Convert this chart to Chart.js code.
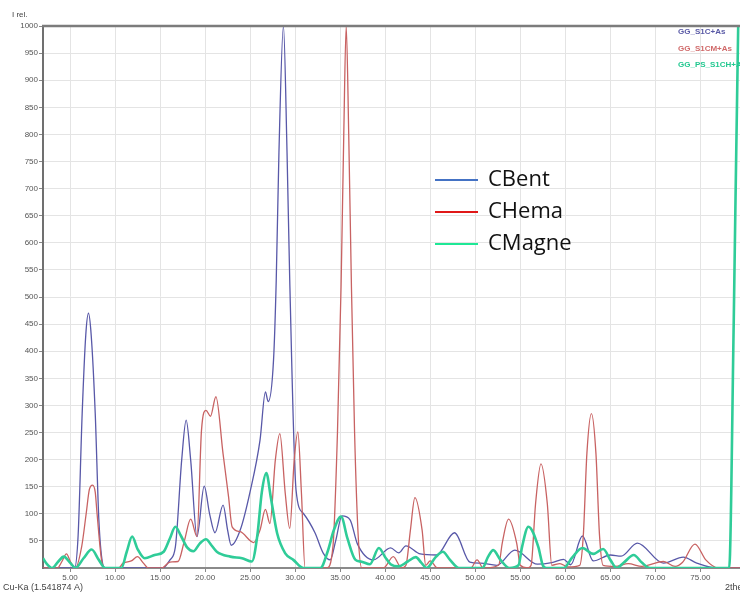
<!DOCTYPE html>
<html>
<head>
<meta charset="utf-8">
<script src="https://cdn.jsdelivr.net/npm/chart.js@4/dist/chart.umd.min.js"></script>
<style>
  html, body { margin: 0; padding: 0; background: #ffffff; overflow: hidden; }
  #wrap { width: 740px; height: 592px; }
</style>
</head>
<body>
<div id="wrap"><canvas id="xrd" width="740" height="592"></canvas></div>
<script>
// Diffractogram points: [2theta (deg), relative intensity]
const cbent = [
  [2.0,0],[5.5,0],[5.9,60],[6.35,285],[6.75,430],[7.05,470],[7.35,430],
  [7.8,285],[8.2,90],[8.6,10],[8.9,0],
  [15.3,0],[16.1,15],[16.7,39],[17.4,199],[17.9,273],[18.4,199],[19.1,58],[19.9,151],
  [20.5,100],[21.1,65],[22.0,116],[22.5,70],[22.9,42],[23.9,70],[25.0,141],[26.1,236],
  [26.7,325],[27.0,307],[27.6,384],[27.9,531],[28.2,766],[28.7,1000],[29.1,766],[29.4,531],
  [30.1,144],[30.9,101],[32.2,65],[33.1,28],[33.9,15],[34.5,50],[35.2,96],[36.1,89],
  [36.9,45],[38.7,15],[40.6,37],[41.5,28],[42.3,41],[43.9,26],[45.7,24],[47.7,65],
  [49.4,11],[50.6,9],[52.4,5],[54.4,33],[56.9,7],[58.5,10],[59.8,16],[60.6,6],
  [61.9,59],[63.1,13],[65.0,24],[66.2,22],[68.0,46],[70.9,9],[73.1,20],[74.6,9],
  [76.8,0],[79.4,0]
];
const chema = [
  [2.0,0],[3.6,0],[4.1,12],[4.6,26],[5.1,10],[5.6,0],[6.3,40],[6.8,101],[7.15,145],[7.5,153],
  [7.8,140],[8.0,101],[8.5,15],[8.9,0],[10.4,0],[10.9,9],[11.8,13],[12.5,21],[13.1,10],[13.7,0],[15.2,0],
  [16.1,11],[17.0,12],[17.7,50],[18.4,90],[19.1,58],[19.6,254],[20.1,291],[20.6,280],
  [21.2,316],[22.0,210],[22.6,132],[23.0,76],[23.9,67],[25.4,47],[26.1,70],[26.7,108],
  [27.2,82],[27.8,199],[28.3,248],[28.9,138],[29.4,73],[29.9,200],[30.3,251],[30.7,138],
  [31.1,0],[33.5,0],[34.2,40],[34.7,250],[35.1,520],[35.4,800],[35.67,1000],[35.95,800],
  [36.25,520],[36.6,250],[37.0,60],[37.4,0],[39.8,0],[40.9,21],[41.8,0],[42.3,5],
  [42.8,70],[43.3,130],[44.1,70],[44.5,5],[45.0,13],[45.8,0],[49.5,0],[50.2,15],
  [50.9,0],[52.6,5],[53.0,46],[53.7,90],[54.6,46],[55.0,5],[55.8,0],[56.2,5],
  [56.7,119],[57.3,192],[58.0,119],[58.5,5],[59.4,8],[60.3,2],[61.6,5],[62.0,60],[62.4,212],
  [62.9,285],[63.4,212],[63.8,60],[64.2,5],[65.5,3],[67.0,8],[68.5,3],[70.9,12],[72.2,3],
  [73.0,10],[74.4,44],[75.6,15],[77.0,0],[79.4,0]
];
const cmagne = [
  [2.0,18],[2.4,8],[3.0,0],[3.7,12],[4.3,21],[5.0,10],[5.6,0],[6.5,18],[7.4,34],
  [8.2,15],[8.9,0],[10.7,0],[11.3,30],[11.9,58],[12.5,35],[13.3,18],[14.4,24],[15.4,30],
  [16.1,55],[16.7,76],[17.3,60],[18.0,38],[18.7,31],[19.4,45],[20.1,53],[20.7,42],
  [21.3,30],[22.8,21],[24.1,18],[25.2,12],[25.8,60],[26.3,140],[26.8,175],[27.3,130],
  [28.0,64],[28.9,27],[29.8,15],[30.9,0],[32.8,0],[33.6,30],[34.3,70],[35.1,95],
  [35.8,55],[36.7,15],[37.3,12],[38.3,7],[39.3,37],[40.0,20],[40.6,7],[41.5,3],
  [42.5,12],[43.4,20],[44.0,10],[44.6,0],[45.6,20],[46.4,30],[47.2,15],[48.2,0],
  [50.8,0],[51.4,20],[52.0,33],[52.8,15],[53.8,0],[54.8,5],[55.2,39],[55.9,76],
  [57.0,39],[57.5,5],[57.9,0],[59.8,0],[60.8,20],[61.9,37],[63.1,26],[64.2,35],[65.0,15],
  [65.7,0],[66.5,10],[67.6,24],[68.5,10],[69.4,0],[78.2,0],[78.7,450],[79.2,1000],
  [79.4,1100]
];

const seriesNames = ['CBent', 'CHema', 'CMagne'];
const sampleNames = ['GG_S1C+As', 'GG_S1CM+As', 'GG_PS_S1CH+A'];
const xTicks = [5, 10, 15, 20, 25, 30, 35, 40, 45, 50, 55, 60, 65, 70, 75];
const xRange = [2, 79.4];
const yRange = [0, 1000];
const yStep = 50;

const lineColors = ['#5858a8', '#c86262', '#2fcc98'];
const keyColors = ['#4472c4', '#e01818', '#1ee896'];
const sampleColors = ['#5a5aa6', '#d06a6a', '#22c890'];

const toPts = arr => arr.map(p => ({ x: p[0], y: p[1] }));

// Extra text and frame drawn on the canvas around the plot
const decorations = {
  id: 'decorations',
  afterDraw(chart) {
    const ctx = chart.ctx;
    const a = chart.chartArea;
    ctx.save();
    // top frame line
    ctx.strokeStyle = '#7c7c7c';
    ctx.lineWidth = 2.5;
    ctx.beginPath();
    ctx.moveTo(a.left - 1, a.top);
    ctx.lineTo(a.right, a.top);
    ctx.stroke();

    // axis captions
    ctx.fillStyle = '#444';
    ctx.textBaseline = 'middle';
    ctx.font = '8px "Liberation Sans", Arial, sans-serif';
    ctx.textAlign = 'left';
    ctx.fillText('I rel.', 12, 15);
    ctx.font = '9px "Liberation Sans", Arial, sans-serif';
    ctx.fillText('Cu-Ka (1.541874 A)', 3, 588);
    ctx.fillText('2thet', 725, 588);

    // sample names, top right
    ctx.font = 'bold 8px "Liberation Sans", Arial, sans-serif';
    sampleNames.forEach((s, i) => {
      ctx.fillStyle = sampleColors[i];
      ctx.fillText(s, 678, 32 + i * 16.5);
    });

    // series key in the middle of the plot
    ctx.font = '22px "Open Sans", sans-serif';
    seriesNames.forEach((s, i) => {
      const y = 180 + i * 32;
      ctx.strokeStyle = keyColors[i];
      ctx.lineWidth = 2;
      ctx.beginPath();
      ctx.moveTo(435, y);
      ctx.lineTo(478, y);
      ctx.stroke();
      ctx.fillStyle = '#111';
      ctx.fillText(s, 488, y);
    });
    ctx.restore();
  }
};

new Chart(document.getElementById('xrd'), {
  type: 'line',
  data: {
    datasets: [
      { label: seriesNames[0], data: toPts(cbent), borderColor: lineColors[0], borderWidth: 1.3, order: 2 },
      { label: seriesNames[1], data: toPts(chema), borderColor: lineColors[1], borderWidth: 1.3, order: 1 },
      { label: seriesNames[2], data: toPts(cmagne), borderColor: lineColors[2], borderWidth: 2.6, order: 0 }
    ]
  },
  options: {
    responsive: false,
    animation: false,
    elements: {
      point: { radius: 0 },
      line: { cubicInterpolationMode: 'monotone', fill: false }
    },
    layout: { padding: { top: 26, right: 0, left: 0, bottom: 0 } },
    plugins: { legend: { display: false }, tooltip: { enabled: false } },
    scales: {
      x: {
        type: 'linear',
        min: xRange[0],
        max: xRange[1],
        afterBuildTicks: s => { s.ticks = xTicks.map(v => ({ value: v })); },
        afterFit: s => { s.height = 24; },
        ticks: {
          autoSkip: false,
          maxRotation: 0,
          padding: 1,
          color: '#555',
          font: { family: '"Liberation Sans", Arial, sans-serif', size: 8 },
          callback: v => Number(v).toFixed(2)
        },
        grid: { color: '#e4e4e4', lineWidth: 1, tickLength: 4, tickColor: '#888' },
        border: { display: true, color: '#8a8a8a', width: 2 }
      },
      y: {
        type: 'linear',
        min: yRange[0],
        max: yRange[1],
        afterBuildTicks: s => {
          const t = [];
          for (let v = yRange[0] + yStep; v <= yRange[1]; v += yStep) t.push({ value: v });
          s.ticks = t;
        },
        afterFit: s => { s.width = 43; },
        ticks: {
          autoSkip: false,
          padding: 1,
          color: '#555',
          font: { family: '"Liberation Sans", Arial, sans-serif', size: 8 },
          callback: v => String(v)
        },
        grid: { color: '#e4e4e4', lineWidth: 1, tickLength: 4, tickColor: '#888' },
        border: { display: true, color: '#707070', width: 2 }
      }
    }
  },
  plugins: [decorations]
});
</script>
</body>
</html>
